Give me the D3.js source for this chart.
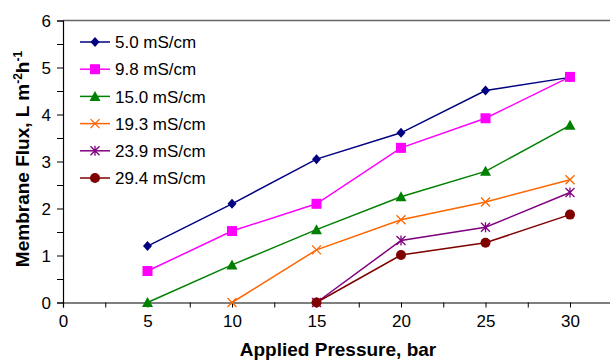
<!DOCTYPE html>
<html><head><meta charset="utf-8">
<script src="https://cdn.jsdelivr.net/npm/d3@7"></script>
<style>body{margin:0;background:#fff}svg{display:block;font-family:"Liberation Sans",Arial,sans-serif}</style>
</head><body>
<svg id="c" width="610" height="363"></svg>
<script>
const pressures = [5, 10, 15, 20, 25, 30];
const seriesNames = ["5.0 mS/cm", "9.8 mS/cm", "15.0 mS/cm", "19.3 mS/cm", "23.9 mS/cm", "29.4 mS/cm"];
const flux50 = [1.2, 2.1, 3.05, 3.61, 4.51, 4.79];
const flux98 = [0.67, 1.52, 2.1, 3.29, 3.92, 4.8];
const flux150 = [0, 0.8, 1.55, 2.25, 2.79, 3.77];
const flux193 = [null, 0, 1.12, 1.76, 2.14, 2.61];
const flux239 = [null, null, 0, 1.32, 1.6, 2.34];
const flux294 = [null, null, 0, 1.01, 1.27, 1.87];
const xTicks = [0, 5, 10, 15, 20, 25, 30];
const yTicks = [0, 1, 2, 3, 4, 5, 6];
const colors = ["#000080", "#FF00FF", "#008000", "#FF6600", "#800080", "#800000"];
const markers = ["diamond", "square", "triangle", "cross", "star", "circle"];

const allSeries = [flux50, flux98, flux150, flux193, flux239, flux294];
const svg = d3.select("#c");
const x = d3.scaleLinear().domain([0, 35]).range([63, 654.5]);
const y = d3.scaleLinear().domain([0, 6]).range([302.5, 20.5]);

// top border
svg.append("line").attr("x1", x(0)).attr("x2", x(35)).attr("y1", y(6)).attr("y2", y(6))
  .attr("stroke", "#666").attr("stroke-width", 1.5);

// y axis
const yAx = svg.append("g").attr("transform", `translate(${x(0)},0)`)
  .call(d3.axisLeft(y).tickValues(d3.range(0, 6.01, 0.5)).tickSize(6)
    .tickFormat(d => Number.isInteger(d) ? d : ""));
yAx.select(".domain").attr("stroke", "#000").attr("stroke-width", 1.2);
yAx.selectAll(".tick line").attr("stroke", "#000");
yAx.selectAll(".tick text").attr("font-size", 17).attr("font-family", "Liberation Sans, Arial").attr("fill", "#000").attr("x", -12).attr("dy", "0.36em");

// x axis
const xAx = svg.append("g").attr("transform", `translate(0,${y(0)})`)
  .call(d3.axisBottom(x).tickValues(d3.range(0, 35.01, 2.5)).tickSize(5)
    .tickFormat(d => xTicks.includes(d) ? d : ""));
xAx.select(".domain").attr("stroke", "#000").attr("stroke-width", 1.2);
xAx.selectAll(".tick line").attr("stroke", "#000");
xAx.selectAll(".tick text").attr("font-size", 17).attr("font-family", "Liberation Sans, Arial").attr("fill", "#000").attr("y", 12);

// marker drawing
function drawMarker(g, type, color, cx, cy) {
  if (type === "diamond") {
    g.append("path").attr("d", `M${cx},${cy-5}L${cx+4.5},${cy}L${cx},${cy+5}L${cx-4.5},${cy}Z`).attr("fill", color);
  } else if (type === "square") {
    g.append("rect").attr("x", cx-5).attr("y", cy-5).attr("width", 10).attr("height", 10).attr("fill", color);
  } else if (type === "triangle") {
    g.append("path").attr("d", `M${cx},${cy-5.5}L${cx+5.5},${cy+4.5}L${cx-5.5},${cy+4.5}Z`).attr("fill", color);
  } else if (type === "cross") {
    g.append("path").attr("d", `M${cx-4.5},${cy-4.5}L${cx+4.5},${cy+4.5}M${cx-4.5},${cy+4.5}L${cx+4.5},${cy-4.5}`).attr("stroke", color).attr("stroke-width", 1.3);
  } else if (type === "star") {
    g.append("path").attr("d", `M${cx-4.5},${cy-4.5}L${cx+4.5},${cy+4.5}M${cx-4.5},${cy+4.5}L${cx+4.5},${cy-4.5}M${cx},${cy-5}L${cx},${cy+5}`).attr("stroke", color).attr("stroke-width", 1.3);
  } else if (type === "circle") {
    g.append("circle").attr("cx", cx).attr("cy", cy).attr("r", 5).attr("fill", color);
  }
}

const line = d3.line().defined(d => d[1] != null).x(d => x(d[0])).y(d => y(d[1]));
allSeries.forEach((vals, i) => {
  const pts = pressures.map((p, j) => [p, vals[j]]);
  const g = svg.append("g");
  g.append("path").datum(pts.filter(d => d[1] != null)).attr("d", line)
    .attr("fill", "none").attr("stroke", colors[i]).attr("stroke-width", 1.5);
  pts.filter(d => d[1] != null).forEach(d => drawMarker(g, markers[i], colors[i], x(d[0]), y(d[1])));
});

// legend
const legY0 = 42, legDy = 27.2;
seriesNames.forEach((name, i) => {
  const g = svg.append("g");
  const ly = legY0 + i * legDy;
  g.append("line").attr("x1", 80).attr("x2", 110).attr("y1", ly).attr("y2", ly).attr("stroke", colors[i]).attr("stroke-width", 1.5);
  drawMarker(g, markers[i], colors[i], 95, ly);
  g.append("text").attr("x", 115).attr("y", ly).attr("dy", "0.36em").attr("font-size", 17).attr("fill", "#000").text(name);
});

// axis titles
svg.append("text").attr("x", 338).attr("y", 356).attr("text-anchor", "middle")
  .attr("font-size", 19).attr("font-weight", "bold").attr("fill", "#000").text("Applied Pressure, bar");

const yt = svg.append("text").attr("transform", "translate(29,159) rotate(-90)").attr("text-anchor", "middle")
  .attr("font-size", 19).attr("font-weight", "bold").attr("fill", "#000");
yt.append("tspan").text("Membrane Flux, L m");
yt.append("tspan").attr("dy", -7).attr("font-size", 12).text("-2");
yt.append("tspan").attr("dy", 7).text("h");
yt.append("tspan").attr("dy", -7).attr("font-size", 12).text("-1");
</script>
</body></html>
